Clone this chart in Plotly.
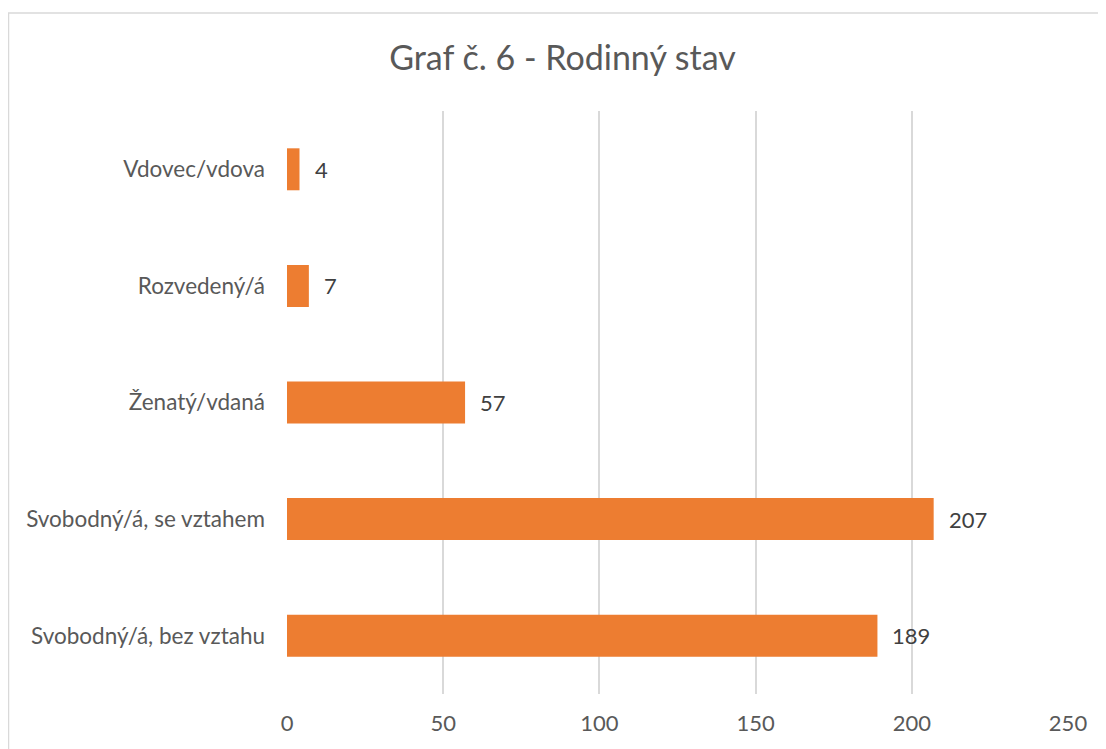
import plotly.graph_objects as go

categories = ["Svobodný/á, bez vztahu", "Svobodný/á, se vztahem", "Ženatý/vdaná", "Rozvedený/á", "Vdovec/vdova"]
values = [189, 207, 57, 7, 4]
tick_vals = [0, 50, 100, 150, 200, 250]
title_text = "Graf č. 6 - Rodinný stav"

W, H = 1106, 749
OFF = 8  # default body margin of the page
L, T = 287 - OFF, 111 - OFF
R = W - (1068 - OFF)
B = H - (694 - OFF)
pw, ph = W - L - R, H - T - B

FONT = "Lato"
GREY = "#595959"

fig = go.Figure(go.Bar(
    y=categories, x=values, orientation="h",
    marker=dict(color="#ED7D31", line=dict(width=0)),
    cliponaxis=False,
))

for c, v in zip(categories, values):
    fig.add_annotation(x=v, y=c, xref="x", yref="y", text=str(v), showarrow=False,
                       xanchor="left", yanchor="middle", xshift=13,
                       font=dict(size=22, color="#404040", family=FONT))

fig.update_layout(
    width=W, height=H,
    margin=dict(l=L, r=R, t=T, b=B, autoexpand=False),
    paper_bgcolor="white", plot_bgcolor="white",
    font=dict(family=FONT, color=GREY),
    title=dict(text=title_text, x=(562.5 - OFF) / W, xanchor="center",
               y=1 - (58 - OFF) / H, yanchor="middle",
               font=dict(size=34, color=GREY, family=FONT)),
    bargap=0.64,
    showlegend=False,
    xaxis=dict(range=[0, 250], tickvals=tick_vals, showgrid=True, gridcolor="#D9D9D9", gridwidth=2,
               zeroline=False, showline=False, ticks="", tickfont=dict(size=22, color=GREY),
               ticklabelstandoff=14),
    yaxis=dict(showgrid=False, zeroline=False, showline=False, ticks="",
               tickfont=dict(size=22.5, color=GREY), ticklabelstandoff=21),
)

x0 = (8.5 - OFF - L) / pw
y1 = (H - B - (13 - OFF)) / ph
fig.add_shape(type="rect", xref="paper", yref="paper", x0=x0, x1=1.2, y0=-0.3, y1=y1,
              line=dict(color="#D9D9D9", width=1.5), fillcolor="rgba(0,0,0,0)", layer="below")

fig.write_html("out.html")
